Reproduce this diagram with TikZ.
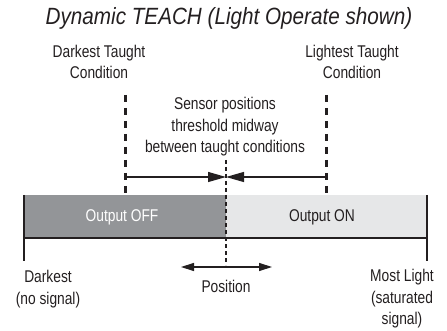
\documentclass[tikz,border=0pt]{standalone}
\usepackage{fontspec}
\setmainfont[FakeStretch=0.81]{Liberation Sans}
\newfontfamily\titlefont[FakeStretch=0.88]{Liberation Sans}
\usetikzlibrary{arrows.meta}
\definecolor{offgray}{RGB}{147, 149, 152}
\definecolor{ongray}{RGB}{230, 231, 232}
\definecolor{ink}{RGB}{35, 31, 32}

\begin{document}
\begin{tikzpicture}[x=1pt, y=-1pt,
    lbl/.style={align=center, text=ink, inner sep=0pt, font=\fontsize{17}{21.5}\selectfont},
    taught/.style={ink, line width=3pt, dash pattern=on 7pt off 6pt},
    midline/.style={ink, line width=1.4pt, dash pattern=on 4pt off 3pt},
    edge/.style={ink, line width=2.5pt},
    pointer/.style={ink, line width=1.3pt}]
  \useasboundingbox (0,0) rectangle (447,331);
  % Title
  \node[lbl, font=\titlefont\fontsize{23.5}{28}\selectfont\itshape] (title) at (229,18) {Dynamic TEACH (Light Operate shown)};
  % Taught conditions
  \node[lbl] (darktaught) at (99,62) {Darkest Taught\\Condition};
  \node[lbl] (lighttaught) at (352,62) {Lightest Taught\\Condition};
  \node[lbl] (sensor) at (225,127) {Sensor positions\\threshold midway\\between taught conditions};
  % Sensing bar
  \fill[offgray] (24,195) rectangle (226,238);
  \fill[ongray] (226,195) rectangle (427,238);
  \node[lbl, text=white] (off) at (122,217) {Output OFF};
  \node[lbl] (on) at (322,217) {Output ON};
  \coordinate (barbl) at (24,238);
  \coordinate (barbr) at (427,238);
  \coordinate (leftend) at (24,261);
  \coordinate (rightend) at (427,261);
  \draw[edge] (barbl) -- (barbr);
  \draw[edge] (24,195) -- (leftend);
  \draw[edge] (427,195) -- (rightend);
  % Dashed markers
  \coordinate (dktop) at (125,95);
  \coordinate (dkbot) at (125,195);
  \coordinate (lttop) at (326,95);
  \coordinate (ltbot) at (326,195);
  \coordinate (thrtop) at (226,160);
  \coordinate (thrbot) at (226,265);
  \draw[taught] (dktop) -- (dkbot);
  \draw[taught] (lttop) -- (ltbot);
  \draw[midline] (thrtop) -- (thrbot);
  % Threshold arrows
  \coordinate (dkarm) at (125,177);
  \coordinate (ltarm) at (326,177);
  \coordinate (thr) at (226,177);
  \draw[pointer, -{Triangle[length=18pt, width=10pt]}] (dkarm) -- (thr);
  \draw[pointer, -{Triangle[length=18pt, width=10pt]}] (ltarm) -- (thr);
  % Position
  \coordinate (posl) at (181,267);
  \coordinate (posr) at (272,267);
  \draw[pointer, {Triangle[length=13pt, width=8pt]}-{Triangle[length=13pt, width=8pt]}] (posl) -- (posr);
  \node[lbl] (position) at (226,286) {Position};
  % Ends of the scale
  \node[lbl] (darkest) at (48,289) {Darkest\\(no signal)};
  \node[lbl] (mostlight) at (402,299) {Most Light\\(saturated\\signal)};
\end{tikzpicture}
\end{document}
